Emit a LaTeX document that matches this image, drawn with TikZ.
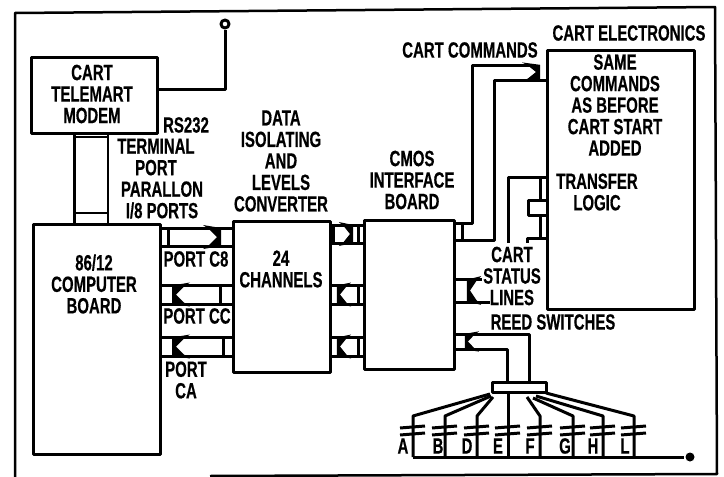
\documentclass[tikz,border=0pt]{standalone}
\usepackage{fontspec}
\setmainfont[FakeStretch=0.68,BoldFeatures={FakeBold=0.5}]{Liberation Sans}
\tikzset{
    blok/.style={draw,line width=3pt,inner sep=0pt},
    lab/.style={align=center,inner sep=0pt,font=\bfseries\fontsize{22}{21.5}\selectfont},
    busarrow/.pic={
        \fill (-14,-12) -- (4,-9) -- (4,9) -- (-14,12) -- (-8,8) -- (0,0) -- (-8,-8) -- cycle;
    }
}
\begin{document}
\begin{tikzpicture}[x=1pt,y=-1pt,line width=3pt,line join=round]
    \useasboundingbox (0,0) rectangle (724,477);
    % outer frame
    \draw[line width=2.5pt] (15,477) -- (15,13) -- (715,7) -- (717,474) -- (210,476);
    % boards
    \node[blok,minimum width=126pt,minimum height=76pt] (modem) at (94,95) {};
    \node[blok,minimum width=127pt,minimum height=230pt] (board) at (96.5,339) {};
    \node[blok,minimum width=97pt,minimum height=151pt] (conv) at (281.5,296.5) {};
    \node[blok,minimum width=90pt,minimum height=149pt] (cmos) at (409,294.5) {};
    \node[blok,minimum width=147pt,minimum height=259pt] (elec) at (620.5,179.5) {};
    \node[blok,minimum width=54pt,minimum height=10pt] (conn) at (519,387) {};
    % aerial
    \node[draw,circle,minimum size=8pt,inner sep=0pt] (tip) at (225,24) {};
    \draw (modem.east |- 0,89) -| (tip.south);
    % cable from modem to board
    \draw (modem.south -| 74,0) -- (board.north -| 74,0);
    \draw[line width=2.5pt] (modem.south -| 108,0) -- (board.north -| 108,0);
    \draw[line width=2.5pt] (74,137) -- (108,137) (74,213) -- (108,213);
    % buses
    \foreach \yt/\yb in {228/246,285/304,337/356}{
        \draw (board.east |- 0,\yt) -- (conv.west |- 0,\yt);
        \draw (board.east |- 0,\yb) -- (conv.west |- 0,\yb);
    }
    \foreach \yt/\yb in {225/243,285/304,337/356}{
        \draw (conv.east |- 0,\yt) -- (cmos.west |- 0,\yt);
        \draw (conv.east |- 0,\yb) -- (cmos.west |- 0,\yb);
    }
    \draw (168,228) -- (168,246) (333,225) -- (333,243);
    \draw (220,285) -- (220,304) (358,225) -- (358,243) (358,285) -- (358,304);
    \draw (223,337) -- (223,356) (358,337) -- (358,356);
    \pic at (217,237) {busarrow};
    \pic[xscale=-1] at (176,294.5) {busarrow};
    \pic[xscale=-1] at (176,346.5) {busarrow};
    \pic[xscale=.8] at (350,234) {busarrow};
    \pic[xscale=-.8] at (340,294.5) {busarrow};
    \pic[xscale=-.8] at (340,346.5) {busarrow};
    % cart commands
    \draw (cmos.east |- 0,223) -| (472,65) -- (536,65);
    \draw (cmos.east |- 0,240) -| (494,80) -- (elec.west |- 0,80);
    \draw (462,223) -- (462,240);
    \pic[yscale=.8] at (536,72) {busarrow};
    % transfer logic
    \draw (508,243) |- (elec.west |- 0,177);
    \draw (540,177) -- (540,200) (540,215) -- (540,238);
    \draw (elec.west |- 0,200) -- (528,200) -- (528,215) -- (elec.west |- 0,215);
    \draw (527,243) |- (elec.west |- 0,238);
    % status lines
    \draw (cmos.east |- 0,279) -- (482,279);
    \draw (cmos.east |- 0,302) -- (490,302);
    \pic[xscale=-.8,yscale=1.2] at (470,290.5) {busarrow};
    % reed switches
    \draw (cmos.east |- 0,334) -| (conn.north -| 529,0);
    \draw (cmos.east |- 0,349) -| (conn.north -| 507,0);
    \pic[xscale=-.8,yscale=.85] at (468,341.5) {busarrow};
    \coordinate (busend) at (690,457);
    \foreach \nam/\x/\xa/\ya in {A/413/490/394,B/445/491/396,D/477/493/397,E/508/508/392,
                                 F/540/527/397,G/573/533/398,H/603/536/396,L/634/546/393}{
        \coordinate (sw\nam) at (\x,416);
        \draw (\xa,\ya) -- (sw\nam) -- (sw\nam |- busend);
        \draw ([shift={(-13,12)}]sw\nam) -- ([shift={(12,10)}]sw\nam);
        \draw ([shift={(-13,19)}]sw\nam) -- ([shift={(12,17)}]sw\nam);
    }
    \node[fill,circle,minimum size=9pt,inner sep=0pt] (end) at (busend) {};
    \draw (swA |- busend) -- (end);
    % texts
    \node[lab] (tmodem) at (92,94) {CART\\TELEMART\\MODEM};
    \node[lab] (trs) at (186,125) {RS232};
    \node[lab] (tterm) at (156,157) {TERMINAL\\PORT};
    \node[lab] (tpar) at (162,200) {PARALLON\\I/8 PORTS};
    \node[lab] (tdata) at (281,161) {DATA\\ISOLATING\\AND\\LEVELS\\CONVERTER};
    \node[lab] (tconv) at (281,269) {24\\CHANNELS};
    \node[lab] (tboard) at (94,284) {86/12\\COMPUTER\\BOARD};
    \node[lab] (tcb) at (196,259) {PORT C8};
    \node[lab] (tcc) at (197,316) {PORT CC};
    \node[lab] (tca) at (186,380) {PORT\\CA};
    \node[lab] (tcmos) at (412,180) {CMOS\\INTERFACE\\BOARD};
    \node[lab] (tcmd) at (470,50) {CART COMMANDS};
    \node[lab] (telec) at (629,33) {CART ELECTRONICS};
    \node[lab] (tsame) at (615,105) {SAME\\COMMANDS\\AS BEFORE\\CART START\\ADDED};
    \node[lab] (ttran) at (597,192) {TRANSFER\\LOGIC};
    \node[lab] (tstat) at (512,276) {CART\\STATUS\\LINES};
    \node[lab] (treed) at (553,322) {REED SWITCHES};
    \foreach \nam/\x in {A/403,B/438,D/467,E/498,F/530,G/565,H/593,L/625}
        \node[lab] (let\nam) at (\x,446) {\nam};
\end{tikzpicture}
\end{document}
